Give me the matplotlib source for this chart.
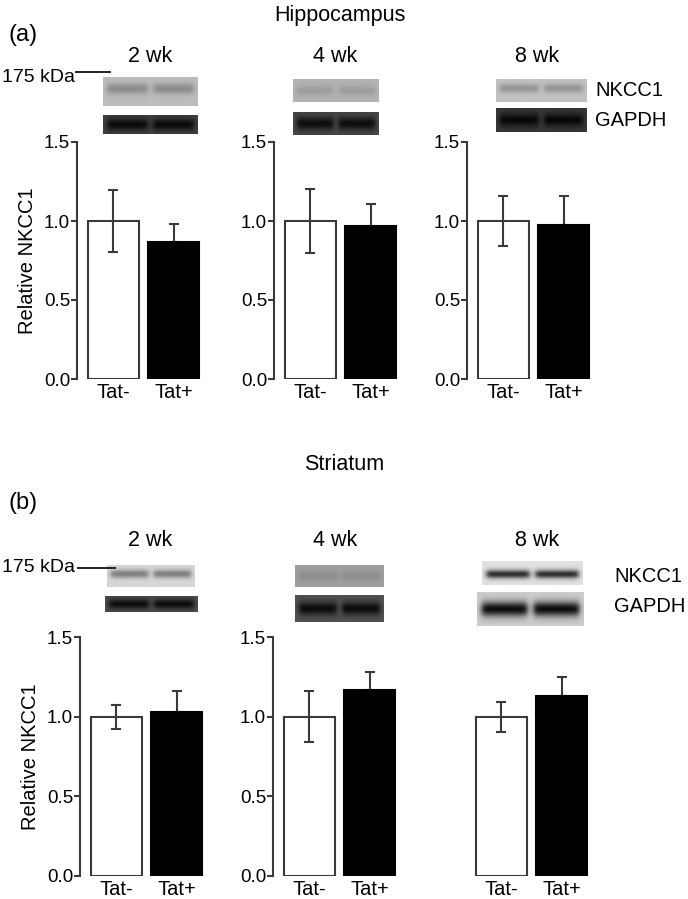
import numpy as np
import matplotlib
matplotlib.use("Agg")
import matplotlib.pyplot as plt

plt.rcParams['font.family'] = ['Liberation Sans', 'DejaVu Sans']

# ---------------- data ----------------
groups = ["Tat-", "Tat+"]
weeks = ["2 wk", "4 wk", "8 wk"]
regions = ["Hippocampus", "Striatum"]
panel_tags = ["(a)", "(b)"]
yticks = [0.0, 0.5, 1.0, 1.5]

hip_neg = [1.00, 1.00, 1.00]
hip_neg_err = [0.195, 0.20, 0.16]
hip_pos = [0.87, 0.97, 0.975]
hip_pos_err = [0.11, 0.14, 0.185]

str_neg = [1.00, 1.00, 1.00]
str_neg_err = [0.075, 0.16, 0.095]
str_pos = [1.03, 1.17, 1.13]
str_pos_err = [0.13, 0.11, 0.12]

# ---------------- layout helpers ----------------
W, H = 688, 899
fig = plt.figure(figsize=(W / 100, H / 100), dpi=100)


def px_axes(left, top, width, height):
    return fig.add_axes([left / W, 1 - (top + height) / H, width / W, height / H])


def make_blot(bg, band, rows=30, cols=100, sigma=0.18, center=0.5):
    y = np.linspace(0, 1, rows)[:, None]
    x = np.linspace(0, 1, cols)[None, :]
    vprof = np.exp(-0.5 * ((y - center) / sigma) ** 2)
    lane1 = 1 / (1 + np.exp(-(x - 0.04) / 0.015)) * 1 / (1 + np.exp((x - 0.47) / 0.015))
    lane2 = 1 / (1 + np.exp(-(x - 0.53) / 0.015)) * 1 / (1 + np.exp((x - 0.96) / 0.015))
    hprof = lane1 + lane2
    return bg - (bg - band) * vprof * hprof


def draw_blot(left, top, width, height, bg, band, sigma=0.18, center=0.5):
    ax = px_axes(left, top, width, height)
    ax.imshow(make_blot(bg, band, sigma=sigma, center=center), cmap='gray',
              vmin=0, vmax=1, aspect='auto', interpolation='bilinear')
    ax.axis('off')


FS = 14.5
EC = '#3a3a3a'

# ---------------- bar panels ----------------
rows_cfg = [
    dict(neg=hip_neg, neg_err=hip_neg_err, pos=hip_pos, pos_err=hip_pos_err,
         top=142, height=237, spines=[77, 274, 467], show_axis=[True, True, True]),
    dict(neg=str_neg, neg_err=str_neg_err, pos=str_pos, pos_err=str_pos_err,
         top=637, height=239, spines=[80, 273, 465], show_axis=[True, True, False]),
]

unit_px = 60.5
xlo, xhi = -0.6, 1.55
for r, cfg in enumerate(rows_cfg):
    for i in range(3):
        ax = px_axes(cfg['spines'][i], cfg['top'], (xhi - xlo) * unit_px, cfg['height'])
        x = np.arange(2)
        vals = [cfg['neg'][i], cfg['pos'][i]]
        ax.bar(x, vals, width=0.84, color=['white', 'black'],
               edgecolor=[EC, 'black'], linewidth=1.5, zorder=2)
        ax.errorbar([0], [cfg['neg'][i]], yerr=[[cfg['neg_err'][i]], [cfg['neg_err'][i]]],
                    fmt='none', ecolor=EC, elinewidth=1.5, capsize=3.5,
                    capthick=1.5, zorder=3)
        ax.errorbar([1], [cfg['pos'][i]], yerr=[[0], [cfg['pos_err'][i]]],
                    fmt='none', ecolor=EC, elinewidth=1.5, capsize=3.5,
                    capthick=1.5, zorder=1)
        ax.set_xlim(xlo, xhi)
        ax.set_ylim(0, 1.5)
        ax.set_xticks(x)
        ax.set_xticklabels(groups, fontsize=FS)
        ax.tick_params(axis='x', length=0, pad=3)
        for s in ['top', 'right', 'bottom']:
            ax.spines[s].set_visible(False)
        if cfg['show_axis'][i]:
            ax.spines['left'].set_color(EC)
            ax.spines['left'].set_linewidth(1.5)
            ax.set_yticks(yticks)
            ax.set_yticklabels([f"{t:.1f}" for t in yticks], fontsize=13.5)
            ax.tick_params(axis='y', length=4, width=1.5, color=EC, pad=1)
        else:
            ax.spines['left'].set_visible(False)
            ax.set_yticks([])
        if i == 0:
            ax.set_ylabel("Relative NKCC1", fontsize=FS, labelpad=5)
        ax.patch.set_alpha(0)

# ---------------- titles and labels ----------------
def ftext(x, y, s, **kw):
    fig.text(x / W, 1 - y / H, s, **kw)


ftext(340, 15, regions[0], fontsize=15.5, ha='center', va='center')
ftext(344, 464, regions[1], fontsize=15.5, ha='center', va='center')
ftext(8, 35, panel_tags[0], fontsize=17, ha='left', va='center')
ftext(8, 503, panel_tags[1], fontsize=17, ha='left', va='center')

for yy in (57, 540):
    for cx, w in zip((150, 335, 537), weeks):
        ftext(cx, yy, w, fontsize=15.5, ha='center', va='center')

# marker labels
ftext(2, 77, "175 kDa", fontsize=14, ha='left', va='center')
ftext(2, 567, "175 kDa", fontsize=14, ha='left', va='center')
fig.add_artist(plt.Line2D([76 / W, 110 / W], [1 - 72 / H, 1 - 72 / H], color='#222', lw=1.4))
fig.add_artist(plt.Line2D([78 / W, 115 / W], [1 - 568 / H, 1 - 568 / H], color='#222', lw=1.4))

ftext(595, 90, "NKCC1", fontsize=FS, ha='left', va='center')
ftext(595, 120, "GAPDH", fontsize=FS, ha='left', va='center')
ftext(614, 577, "NKCC1", fontsize=FS, ha='left', va='center')
ftext(614, 607, "GAPDH", fontsize=FS, ha='left', va='center')

# ---------------- blot images ----------------
# hippocampus
draw_blot(103, 77, 95, 29, 0.74, 0.55, sigma=0.14, center=0.4)
draw_blot(103, 115, 95, 19, 0.25, 0.04, sigma=0.22)
draw_blot(293, 79, 86, 23, 0.70, 0.62, sigma=0.16)
draw_blot(293, 112, 86, 23, 0.28, 0.05, sigma=0.2)
draw_blot(496, 79, 90, 23, 0.76, 0.58, sigma=0.14, center=0.4)
draw_blot(496, 108, 90, 24, 0.22, 0.03, sigma=0.2)
# striatum
draw_blot(107, 565, 88, 22, 0.84, 0.50, sigma=0.14, center=0.4)
draw_blot(105, 596, 93, 16, 0.30, 0.05, sigma=0.22)
draw_blot(295, 565, 89, 22, 0.62, 0.55, sigma=0.16)
draw_blot(295, 595, 89, 27, 0.32, 0.05, sigma=0.18)
draw_blot(482, 561, 101, 24, 0.88, 0.18, sigma=0.13, center=0.55)
draw_blot(477, 592, 107, 34, 0.80, 0.05, sigma=0.16)

fig.savefig("out.png", dpi=100)
